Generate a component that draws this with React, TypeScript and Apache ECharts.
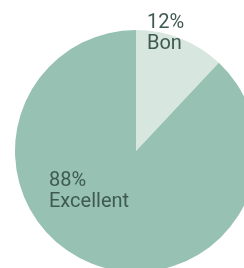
import React, { useEffect, useRef } from "react";
import * as echarts from "echarts";

const categories = ["Bon", "Excellent"];
const values = [12, 88];
const colors = ["#d7e6df", "#97c1b2"];
const labelSpots = [
  { x: 147, y: 31 },
  { x: 49, y: 189 },
];

export default function App() {
  const ref = useRef<HTMLDivElement>(null);
  useEffect(() => {
    if (!ref.current) return;
    const chart = echarts.init(ref.current, null, { renderer: "svg" });
    chart.setOption({
      animation: false,
      series: [
        {
          type: "pie",
          center: [136, 151],
          radius: [0, 121],
          startAngle: 90,
          clockwise: true,
          silent: true,
          data: categories.map((c, i) => ({
            name: c,
            value: values[i],
            itemStyle: { color: colors[i] },
          })),
          itemStyle: { borderWidth: 0 },
          label: {
            show: true,
            position: "inside",
            formatter: (p: any) => `${p.value}%\n${p.name}`,
            fontFamily: "Roboto",
            fontSize: 20,
            lineHeight: 21,
            color: "#3f5a51",
            align: "left",
          },
          labelLine: { show: false },
          labelLayout: (params: any) => {
            const s = labelSpots[params.dataIndex];
            return { x: s.x, y: s.y, align: "left", verticalAlign: "middle" };
          },
        },
      ],
    });
    return () => chart.dispose();
  }, []);
  return (
    <div
      ref={ref}
      style={{ position: "fixed", left: 0, top: 0, width: 244, height: 268 }}
    />
  );
}
